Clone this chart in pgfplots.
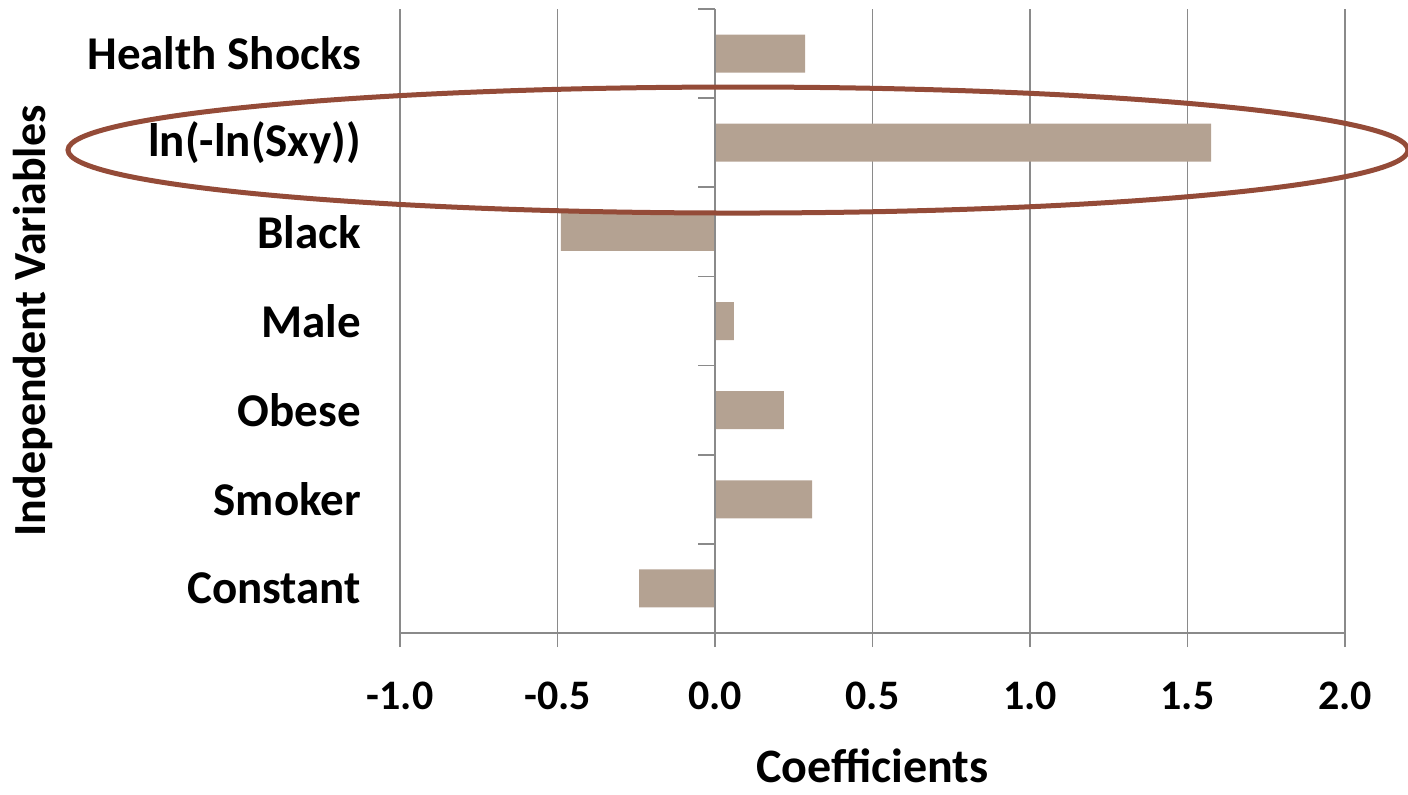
\documentclass[border=0pt]{standalone}
\usepackage{fontspec}
\setmainfont{Carlito}
\usepackage{pgfplots}
\pgfplotsset{compat=1.18}
\definecolor{barc}{HTML}{B4A292}
\definecolor{gridc}{HTML}{8A8A8A}
\definecolor{ellc}{HTML}{944B38}
\begin{document}
\begin{tikzpicture}
\path[use as bounding box] (-200pt,-80.5pt) rectangle (504pt,316.5pt);
\begin{axis}[
  at={(0,0)}, anchor=south west,
  scale only axis, width=472.5pt, height=312pt,
  xmin=-1, xmax=2, ymin=-0.5, ymax=6.5,
  xbar, bar width=19pt,
  axis x line*=bottom, axis y line*=left,
  x axis line style={gridc, line width=0.8pt},
  y axis line style={draw=none},
  xtick={-1,-0.5,0,0.5,1,1.5,2},
  xticklabels={-1.0,-0.5,0.0,0.5,1.0,1.5,2.0},
  xtick align=outside, major tick length=7pt,
  xtick style={gridc, line width=0.8pt},
  xmajorgrids, major grid style={gridc, line width=0.8pt},
  ytick={0,1,2,3,4,5,6},
  yticklabels={Constant,Smoker,Obese,Male,Black,ln(-ln(Sxy)),Health Shocks},
  ytick style={draw=none},
  xticklabel style={font=\fontsize{21}{24}\selectfont\bfseries, yshift=-14pt},
  yticklabel style={font=\fontsize{23.5}{26}\selectfont\bfseries, anchor=east, xshift=-9pt},
  xlabel={Coefficients},
  ylabel={Independent Variables},
  xlabel style={font=\fontsize{24}{26}\selectfont\bfseries, inner sep=0pt, at={(axis description cs:0.5,-0.213)}, anchor=center},
  ylabel style={font=\fontsize{23}{26}\selectfont\bfseries, inner sep=0pt, at={(axis description cs:-0.388,0.5)}, anchor=center},
  clip=false,
]
\addplot[fill=barc, draw=none] coordinates {
  (-0.241,0) (0.308,1) (0.219,2) (0.060,3) (-0.489,4) (1.575,5) (0.286,6)
};
\draw[gridc, line width=0.8pt] (axis cs:0,-0.5) -- (axis cs:0,6.5);
\pgfplotsinvokeforeach{-0.5,0.5,1.5,2.5,3.5,4.5,5.5,6.5}{
  \draw[gridc, line width=0.8pt] (axis cs:0,#1) -- ++(-8.5pt,0pt);
}
\draw[ellc, line width=2.5pt] (axis cs:0.073,4.918) ellipse [x radius=335pt, y radius=31.5pt];
\end{axis}
\end{tikzpicture}
\end{document}
